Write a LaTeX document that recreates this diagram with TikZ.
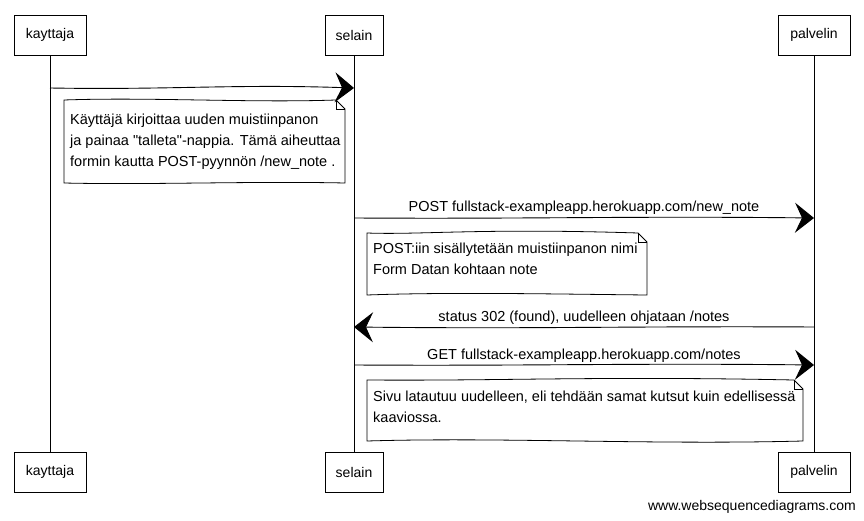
\documentclass[tikz,border=0pt]{standalone}
\usepackage{fontspec}
\setmainfont{Liberation Sans}[Ligatures=TeXOff]
\usetikzlibrary{arrows.meta,calc}
\begin{document}
\begin{tikzpicture}[x=1pt,y=-1pt,
  actor/.style={draw,line width=0.8pt,minimum height=40pt,inner sep=0pt,font=\fontsize{14}{16}\selectfont},
  lifeline/.style={line width=0.8pt},
  msg/.style={line width=0.9pt,-{Stealth[length=19pt,width=30pt,inset=7pt]}},
  msglabel/.style={font=\fontsize{14.5}{16}\selectfont,above,inner sep=2pt},
  notetext/.style={anchor=north west,inner sep=0pt,align=left,font=\fontsize{14.5}{21}\selectfont},
  noteline/.style={line width=0.8pt,fill=white}
]
\useasboundingbox (0,0) rectangle (864,521);
% participants
\node[actor,minimum width=72pt] (kt) at (50,35) {kayttaja};
\node[actor,minimum width=58pt] (st) at (354,35) {selain};
\node[actor,minimum width=72pt] (pt) at (814,35) {palvelin};
\node[actor,minimum width=72pt] (kb) at (50,472) {kayttaja};
\node[actor,minimum width=58pt] (sb) at (354,472) {selain};
\node[actor,minimum width=72pt] (pb) at (814,472) {palvelin};
% lifelines
\draw[lifeline] (kt.south) -- (kb.north);
\draw[lifeline] (st.south) -- (sb.north);
\draw[lifeline] (pt.south) -- (pb.north);
% message end points on lifelines
\coordinate (m1a) at (kt.south |- 0,88);
\coordinate (m1b) at (st.south |- 0,88);
\coordinate (m2a) at (st.south |- 0,218);
\coordinate (m2b) at (pt.south |- 0,218);
\coordinate (m3a) at (pt.south |- 0,327);
\coordinate (m3b) at (st.south |- 0,327);
\coordinate (m4a) at (st.south |- 0,365);
\coordinate (m4b) at (pt.south |- 0,365);
% note 1
\coordinate (n1nw) at (64,100);
\coordinate (n1se) at (345,183);
\coordinate (n1f) at ($(n1se |- n1nw)+(-9,0)$);
\coordinate (n1g) at ($(n1se |- n1nw)+(0,9)$);
\draw[noteline] (n1nw) .. controls (150,97) and (250,103) .. (n1f) -- (n1g) -- (n1se) .. controls (250,181) and (150,185) .. (n1nw |- n1se) -- cycle;
\draw[line width=0.6pt] (n1f) |- (n1g);
\node[notetext] (n1) at (70,114) {Käyttäjä kirjoittaa uuden muistiinpanon\\ja painaa "talleta"-nappia. Tämä aiheuttaa\\formin kautta POST-pyynnön /new\_note .};
% note 2
\coordinate (n2nw) at (367,233);
\coordinate (n2se) at (647,295);
\coordinate (n2f) at ($(n2se |- n2nw)+(-9,0)$);
\coordinate (n2g) at ($(n2se |- n2nw)+(0,9)$);
\draw[noteline] (n2nw) .. controls (420,235) and (480,228) .. (n2f) -- (n2g) -- (n2se) .. controls (550,294) and (450,292) .. (n2nw |- n2se) -- cycle;
\draw[line width=0.6pt] (n2f) |- (n2g);
\node[notetext] (n2) at (373,243) {POST:iin sisällytetään muistiinpanon nimi\\Form Datan kohtaan note};
% note 3
\coordinate (n3nw) at (367,380);
\coordinate (n3se) at (803,441);
\coordinate (n3f) at ($(n3se |- n3nw)+(-9,0)$);
\coordinate (n3g) at ($(n3se |- n3nw)+(0,9)$);
\draw[noteline] (n3nw) .. controls (500,381) and (600,376) .. (n3f) -- (n3g) -- (n3se) .. controls (650,445) and (500,437) .. (n3nw |- n3se) -- cycle;
\draw[line width=0.6pt] (n3f) |- (n3g);
\node[notetext] (n3) at (373,391) {Sivu latautuu uudelleen, eli tehdään samat kutsut kuin edellisessä\\kaaviossa.};
% messages
\draw[msg] (m1a) .. controls ($(m1a)!0.4!(m1b)+(0,2)$) and ($(m1a)!0.6!(m1b)+(0,-4)$) .. (m1b);
\draw[msg] (m2a) .. controls ($(m2a)!0.4!(m2b)+(0,1)$) and ($(m2a)!0.6!(m2b)+(0,-2)$) .. node[msglabel,pos=0.5,yshift=1pt] (l2) {POST fullstack-exampleapp.herokuapp.com/new\_note} (m2b);
\draw[msg] (m3a) .. controls ($(m3a)!0.4!(m3b)+(0,-1)$) and ($(m3a)!0.6!(m3b)+(0,2)$) .. node[msglabel,pos=0.5] (l3) {status 302 (found), uudelleen ohjataan /notes} (m3b);
\draw[msg] (m4a) .. controls ($(m4a)!0.4!(m4b)+(0,1)$) and ($(m4a)!0.6!(m4b)+(0,-2)$) .. node[msglabel,pos=0.5] (l4) {GET fullstack-exampleapp.herokuapp.com/notes} (m4b);
% watermark
\node[anchor=south east,inner sep=0pt,font=\fontsize{14}{16}\selectfont] (wm) at (856,514) {www.websequencediagrams.com};
\end{tikzpicture}
\end{document}
